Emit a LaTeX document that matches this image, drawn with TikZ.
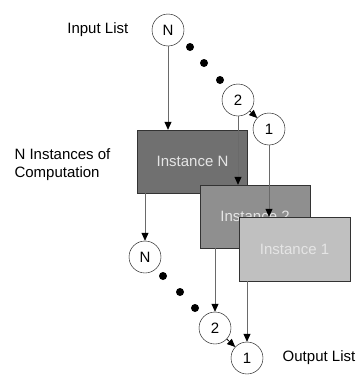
\documentclass[tikz,border=0pt]{standalone}
\usepackage{fontspec}
\setmainfont{Liberation Sans}
\usetikzlibrary{arrows.meta,positioning}

\definecolor{instdark}{HTML}{707070}
\definecolor{instmid}{HTML}{8F8F8F}
\definecolor{instlight}{HTML}{C0C0C0}
\definecolor{flowgray}{HTML}{6A6A6A}

\tikzset{
  item/.style={circle, draw, fill=white, minimum size=32pt, inner sep=0pt, font=\fontsize{15}{17}\selectfont},
  inst/.style={draw=black!80, minimum width=110pt, minimum height=63pt, inner sep=0pt, text=white!90!black, font=\fontsize{15}{17}\selectfont},
  flow/.style={draw=flowgray, line width=0.8pt, -{Triangle[length=8pt,width=7pt,fill=black,color=black]}},
  gap/.style={circle, fill=black, minimum size=8pt, inner sep=0pt},
  caption/.style={font=\fontsize{15}{18}\selectfont, align=left}
}

\begin{document}
\begin{tikzpicture}[x=1pt, y=-1pt]

  \useasboundingbox (0,0) rectangle (357,375);

  % Input list
  \node[item] (inN) at (168,30)  {N} ; %
  \node[item] (in2) at (238,100) {2} ; %
  \node[item] (in1) at (269,129) {1} ; %
  \node[gap] (ind1) at (190,47) {} ; %
  \node[gap] (ind2) at (204,63) {} ; %
  \node[gap] (ind3) at (220,80) {} ; %
  \draw[flow, draw=black] (in2) -- (in1) ; %
  \node[caption, left=20pt of inN] (inlabel) {Input List} ; %

  % Instances
  \node[inst, fill=instdark] (instN) at (192.5,161.5) {Instance N} ; %
  \draw[flow] (inN) -- (instN.north -| inN) ; %
  \node[inst, fill=instmid] (inst2) at (255,216.5) {Instance 2} ; %
  \draw[flow] (in2) -- (inst2.north -| in2) ; %
  \node[inst, fill=instlight, minimum width=111pt, minimum height=64pt] (inst1) at (294.5,249) {Instance 1} ; %
  \draw[flow] (in1) -- (inst1.north -| in1) ; %
  \node[caption, anchor=west] (instlabel) at (11,165) {N Instances of\\Computation} ; %

  % Output list
  \node[item] (outN) at (145,257) {N} ; %
  \node[item] (out2) at (215,328) {2} ; %
  \node[item] (out1) at (247,358) {1} ; %
  \node[gap] (outd1) at (163,276) {} ; %
  \node[gap] (outd2) at (180,292) {} ; %
  \node[gap] (outd3) at (195,308) {} ; %
  \draw[flow, draw=black] (out2) -- (out1) ; %
  \draw[flow] (instN.south -| outN) -- (outN) ; %
  \draw[flow] (inst2.south -| out2) -- (out2) ; %
  \draw[flow] (inst1.south -| out1) -- (out1) ; %
  \node[caption, right=16pt of out1] (outlabel) {Output List} ; %

\end{tikzpicture}
\end{document}
